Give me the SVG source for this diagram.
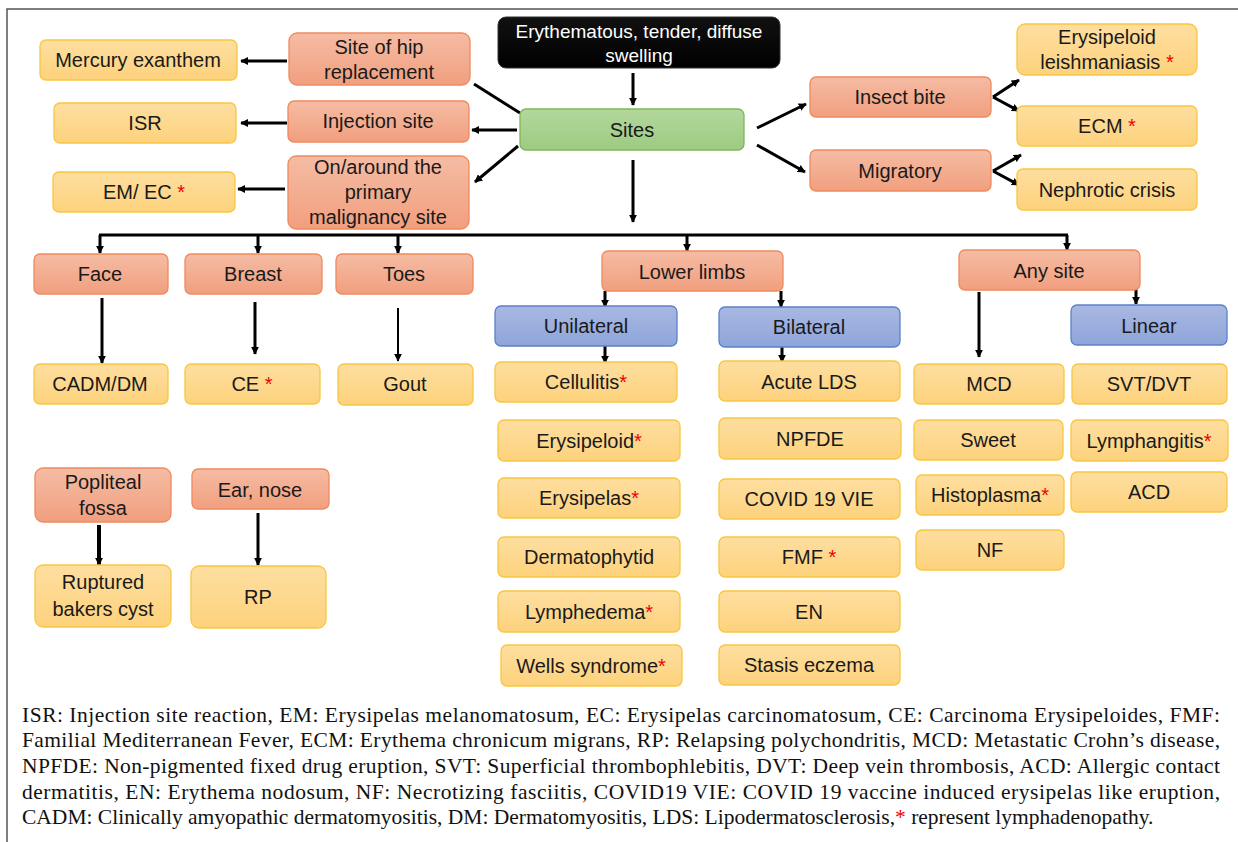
<svg xmlns="http://www.w3.org/2000/svg" width="1238" height="842" viewBox="0 0 1238 842">
<defs>
<linearGradient id="gO" x1="0" y1="0" x2="0" y2="1"><stop offset="0" stop-color="#f5bca4"/><stop offset="1" stop-color="#f19f7e"/></linearGradient>
<linearGradient id="gY" x1="0" y1="0" x2="0" y2="1"><stop offset="0" stop-color="#fedea0"/><stop offset="1" stop-color="#fdd27c"/></linearGradient>
<linearGradient id="gB" x1="0" y1="0" x2="0" y2="1"><stop offset="0" stop-color="#a9b8e2"/><stop offset="1" stop-color="#8ea5da"/></linearGradient>
<linearGradient id="gG" x1="0" y1="0" x2="0" y2="1"><stop offset="0" stop-color="#b2d89c"/><stop offset="1" stop-color="#9dcb82"/></linearGradient>
<linearGradient id="gK" x1="0" y1="0" x2="0" y2="1"><stop offset="0" stop-color="#111"/><stop offset="1" stop-color="#000"/></linearGradient>
<marker id="ah" viewBox="0 0 10 10" refX="9" refY="5" markerWidth="8" markerHeight="8" markerUnits="userSpaceOnUse" orient="auto"><path d="M0,0 L10,5 L0,10 z" fill="#000"/></marker>
</defs>
<style>
.o{fill:url(#gO);stroke:#ef8a5e;stroke-width:1.3}
.y{fill:url(#gY);stroke:#f9c640;stroke-width:1.3}
.b{fill:url(#gB);stroke:#5b80c8;stroke-width:1.3}
.g{fill:url(#gG);stroke:#7fb65a;stroke-width:1.3}
.k{fill:url(#gK);stroke:#333;stroke-width:1}
text{font-family:"Liberation Sans","Noto Sans",sans-serif;font-size:20px;fill:#1a1a1a;text-anchor:middle}
.w{fill:#fff;font-size:19px}
.r{fill:#e00}
.c line,.c path{stroke:#000;stroke-width:3;fill:none}
.c .t{stroke-width:2}
.leg{font-family:"Liberation Serif","Times New Roman",serif;font-size:21.5px;text-anchor:start;fill:#111}
</style>
<rect width="1238" height="842" fill="#fff"/>
<path d="M7,842 V9 H1238" fill="none" stroke="#555" stroke-width="1.5"/>

<g class="c">
<line x1="633" y1="73" x2="633" y2="105" marker-end="url(#ah)"/>
<line x1="633" y1="160" x2="633" y2="222" marker-end="url(#ah)"/>
<line x1="520" y1="113" x2="474" y2="84"/>
<line x1="517" y1="130" x2="472" y2="130" marker-end="url(#ah)"/>
<line x1="518" y1="146" x2="475" y2="182" marker-end="url(#ah)"/>
<line x1="287" y1="61" x2="241" y2="61" marker-end="url(#ah)"/>
<line x1="287" y1="123" x2="241" y2="123" marker-end="url(#ah)"/>
<line x1="285" y1="189" x2="238" y2="189" marker-end="url(#ah)"/>
<line x1="757" y1="128" x2="806" y2="104" marker-end="url(#ah)"/>
<line x1="757" y1="145" x2="805" y2="172" marker-end="url(#ah)"/>
<line x1="993" y1="97" x2="1019" y2="80" marker-end="url(#ah)"/>
<line x1="993" y1="97" x2="1019" y2="111" marker-end="url(#ah)"/>
<line x1="993" y1="171" x2="1021" y2="155" marker-end="url(#ah)"/>
<line x1="993" y1="171" x2="1019" y2="185" marker-end="url(#ah)"/>
<line x1="99" y1="235" x2="1068" y2="235"/>
<line x1="100" y1="235" x2="100" y2="253" marker-end="url(#ah)"/>
<line x1="258" y1="235" x2="258" y2="253" marker-end="url(#ah)"/>
<line x1="398" y1="235" x2="398" y2="253" marker-end="url(#ah)"/>
<line x1="687" y1="235" x2="687" y2="251" marker-end="url(#ah)"/>
<line x1="1067" y1="235" x2="1067" y2="250" marker-end="url(#ah)"/>
<line x1="102" y1="298" x2="102" y2="363" marker-end="url(#ah)"/>
<line x1="255" y1="302" x2="255" y2="354" marker-end="url(#ah)"/>
<line class="t" x1="398" y1="308" x2="398" y2="361" marker-end="url(#ah)"/>
<line x1="605" y1="291" x2="605" y2="307" marker-end="url(#ah)"/>
<line x1="781" y1="291" x2="781" y2="307" marker-end="url(#ah)"/>
<line x1="605" y1="346" x2="605" y2="363" marker-end="url(#ah)"/>
<line x1="782" y1="347" x2="782" y2="362" marker-end="url(#ah)"/>
<line x1="979" y1="292" x2="979" y2="357" marker-end="url(#ah)"/>
<line x1="1136" y1="287" x2="1136" y2="304" marker-end="url(#ah)"/>
<line x1="99" y1="525" x2="99" y2="565" style="stroke-width:4" marker-end="url(#ah)"/>
<line x1="258" y1="513" x2="258" y2="565" marker-end="url(#ah)"/>
</g>

<g id="top"><rect class="k" x="498" y="17" width="282" height="51" rx="8"/><text class="w" x="639" y="38">Erythematous, tender, diffuse</text><text class="w" x="639" y="62">swelling</text></g>
<g id="sites"><rect class="g" x="520" y="109" width="224" height="41" rx="6"/><text x="632" y="137">Sites</text></g>

<g id="hip"><rect class="o" x="289" y="33" width="181" height="52" rx="8"/><text x="379" y="54">Site of hip</text><text x="379" y="79">replacement</text></g>
<g id="mercury"><rect class="y" x="40" y="40" width="197" height="40" rx="6"/><text x="138" y="67">Mercury exanthem</text></g>
<g id="injection"><rect class="o" x="288" y="101" width="181" height="41" rx="6"/><text x="378" y="128">Injection site</text></g>
<g id="isr"><rect class="y" x="54" y="103" width="182" height="40" rx="6"/><text x="145" y="130">ISR</text></g>
<g id="onaround"><rect class="o" x="288" y="156" width="181" height="73" rx="8"/><text x="378" y="174">On/around the</text><text x="378" y="199">primary</text><text x="378" y="224">malignancy site</text></g>
<g id="emec"><rect class="y" x="53" y="172" width="182" height="40" rx="6"/><text x="144" y="199">EM/ EC <tspan class="r">*</tspan></text></g>

<g id="insect"><rect class="o" x="810" y="77" width="181" height="40" rx="6"/><text x="900" y="104">Insect bite</text></g>
<g id="migratory"><rect class="o" x="810" y="150" width="181" height="41" rx="6"/><text x="900" y="178">Migratory</text></g>
<g id="leish"><rect class="y" x="1017" y="24" width="180" height="51" rx="8"/><text x="1107" y="44">Erysipeloid</text><text x="1107" y="69">leishmaniasis <tspan class="r">*</tspan></text></g>
<g id="ecm"><rect class="y" x="1017" y="106" width="180" height="40" rx="6"/><text x="1107" y="133">ECM <tspan class="r">*</tspan></text></g>
<g id="nephrotic"><rect class="y" x="1017" y="169" width="180" height="41" rx="6"/><text x="1107" y="197">Nephrotic  crisis</text></g>

<g id="face"><rect class="o" x="34" y="254" width="134" height="40" rx="6"/><text x="100" y="281">Face</text></g>
<g id="breast"><rect class="o" x="185" y="254" width="137" height="40" rx="6"/><text x="253" y="281">Breast</text></g>
<g id="toes"><rect class="o" x="336" y="254" width="137" height="40" rx="6"/><text x="404" y="281">Toes</text></g>
<g id="cadm"><rect class="y" x="34" y="364" width="134" height="40" rx="6"/><text x="100" y="391">CADM/DM</text></g>
<g id="ce"><rect class="y" x="185" y="364" width="135" height="40" rx="6"/><text x="252" y="391">CE <tspan class="r">*</tspan></text></g>
<g id="gout"><rect class="y" x="338" y="364" width="135" height="41" rx="6"/><text x="405" y="391">Gout</text></g>

<g id="popliteal"><rect class="o" x="35" y="468" width="136" height="54" rx="8"/><text x="103" y="489">Popliteal</text><text x="103" y="515">fossa</text></g>
<g id="baker"><rect class="y" x="35" y="565" width="136" height="62" rx="8"/><text x="103" y="589">Ruptured</text><text x="103" y="616">bakers cyst</text></g>
<g id="earnose"><rect class="o" x="192" y="469" width="137" height="40" rx="6"/><text x="260" y="497">Ear, nose</text></g>
<g id="rp"><rect class="y" x="191" y="566" width="135" height="62" rx="8"/><text x="258" y="604">RP</text></g>

<g id="lowerlimbs"><rect class="o" x="602" y="251" width="181" height="40" rx="6"/><text x="692" y="279">Lower limbs</text></g>
<g id="unilateral"><rect class="b" x="495" y="306" width="182" height="40" rx="6"/><text x="586" y="333">Unilateral</text></g>
<g id="bilateral"><rect class="b" x="719" y="307" width="181" height="40" rx="6"/><text x="809" y="334">Bilateral</text></g>
<g id="cellulitis"><rect class="y" x="495" y="362" width="182" height="40" rx="6"/><text x="586" y="389">Cellulitis<tspan class="r">*</tspan></text></g>
<g id="erysipeloid"><rect class="y" x="498" y="420" width="182" height="41" rx="6"/><text x="589" y="448">Erysipeloid<tspan class="r">*</tspan></text></g>
<g id="erysipelas"><rect class="y" x="498" y="478" width="182" height="40" rx="6"/><text x="589" y="505">Erysipelas<tspan class="r">*</tspan></text></g>
<g id="dermatophytid"><rect class="y" x="498" y="537" width="182" height="40" rx="6"/><text x="589" y="564">Dermatophytid</text></g>
<g id="lymphedema"><rect class="y" x="498" y="591" width="182" height="41" rx="6"/><text x="589" y="619">Lymphedema<tspan class="r">*</tspan></text></g>
<g id="wells"><rect class="y" x="501" y="645" width="181" height="41" rx="6"/><text x="591" y="673">Wells syndrome<tspan class="r">*</tspan></text></g>
<g id="acutelds"><rect class="y" x="719" y="361" width="181" height="40" rx="6"/><text x="809" y="389">Acute LDS</text></g>
<g id="npfde"><rect class="y" x="719" y="418" width="182" height="41" rx="6"/><text x="810" y="446">NPFDE</text></g>
<g id="covid"><rect class="y" x="719" y="479" width="181" height="40" rx="6"/><text x="809" y="506">COVID 19 VIE</text></g>
<g id="fmf"><rect class="y" x="719" y="537" width="181" height="40" rx="6"/><text x="809" y="564">FMF <tspan class="r">*</tspan></text></g>
<g id="en"><rect class="y" x="719" y="591" width="181" height="41" rx="6"/><text x="809" y="619">EN</text></g>
<g id="stasis"><rect class="y" x="719" y="645" width="181" height="40" rx="6"/><text x="809" y="672">Stasis eczema</text></g>

<g id="anysite"><rect class="o" x="959" y="250" width="181" height="40" rx="6"/><text x="1049" y="278">Any site</text></g>
<g id="linear"><rect class="b" x="1071" y="305" width="156" height="40" rx="6"/><text x="1149" y="333">Linear</text></g>
<g id="mcd"><rect class="y" x="914" y="364" width="150" height="40" rx="6"/><text x="989" y="391">MCD</text></g>
<g id="sweet"><rect class="y" x="914" y="420" width="149" height="40" rx="6"/><text x="988" y="447">Sweet</text></g>
<g id="histo"><rect class="y" x="916" y="475" width="148" height="40" rx="6"/><text x="990" y="502">Histoplasma<tspan class="r">*</tspan></text></g>
<g id="nf"><rect class="y" x="916" y="530" width="148" height="40" rx="6"/><text x="990" y="557">NF</text></g>
<g id="svtdvt"><rect class="y" x="1072" y="364" width="155" height="40" rx="6"/><text x="1149" y="391">SVT/DVT</text></g>
<g id="lymphangitis"><rect class="y" x="1071" y="420" width="157" height="41" rx="6"/><text x="1149" y="448">Lymphangitis<tspan class="r">*</tspan></text></g>
<g id="acd"><rect class="y" x="1071" y="472" width="156" height="40" rx="6"/><text x="1149" y="499">ACD</text></g>

<g id="legend">
<text class="leg" x="22" y="722" textLength="1198" lengthAdjust="spacing">ISR: Injection site reaction, EM: Erysipelas melanomatosum, EC: Erysipelas carcinomatosum, CE: Carcinoma Erysipeloides, FMF:</text>
<text class="leg" x="22" y="747" textLength="1198" lengthAdjust="spacing">Familial Mediterranean Fever, ECM: Erythema chronicum migrans, RP: Relapsing polychondritis, MCD: Metastatic Crohn’s disease,</text>
<text class="leg" x="22" y="773" textLength="1198" lengthAdjust="spacing">NPFDE: Non-pigmented fixed drug eruption, SVT: Superficial thrombophlebitis, DVT: Deep vein thrombosis, ACD: Allergic contact</text>
<text class="leg" x="22" y="799" textLength="1198" lengthAdjust="spacing">dermatitis, EN: Erythema nodosum, NF: Necrotizing fasciitis, COVID19 VIE: COVID 19 vaccine induced erysipelas like eruption,</text>
<text class="leg" x="22" y="824">CADM: Clinically amyopathic dermatomyositis, DM: Dermatomyositis, LDS: Lipodermatosclerosis,<tspan class="r">*</tspan> represent lymphadenopathy.</text>
</g>
</svg>
